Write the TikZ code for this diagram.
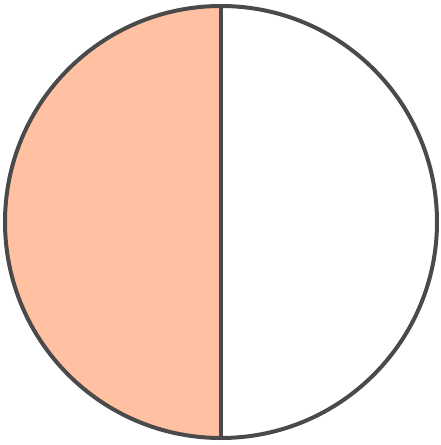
\documentclass[tikz,border=0pt]{standalone}
\definecolor{peach}{HTML}{FFC1A1}
\definecolor{rim}{HTML}{4A4A4A}
\begin{document}
\begin{tikzpicture}[x=1pt,y=1pt,rimline/.style={draw=rim,line width=4pt}]
\useasboundingbox (0,0) rectangle (440,445);
\coordinate (c) at (221,223);
\coordinate (top) at (221,439);
\coordinate (bot) at (221,7);
\fill[peach] (top) arc (90:270:216) -- cycle;
\draw[rimline] (c) circle (216);
\draw[rimline] (top) -- (bot);
\end{tikzpicture}
\end{document}
